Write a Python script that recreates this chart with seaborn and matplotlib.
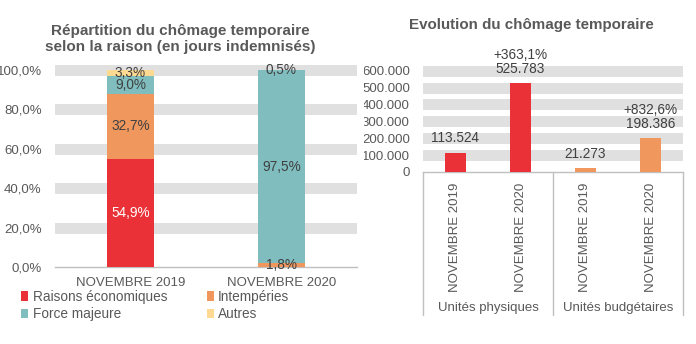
import numpy as np
import pandas as pd
import matplotlib
matplotlib.use("Agg")
import matplotlib.pyplot as plt
import seaborn as sns
from matplotlib.patches import Patch
from matplotlib.transforms import Bbox, TransformedBbox
import matplotlib.ticker as mticker

# ---------------- data ----------------
periods = ["NOVEMBRE 2019", "NOVEMBRE 2020"]
reasons = ["Raisons économiques", "Intempéries", "Force majeure", "Autres"]
eco = [54.9, 0.2]
intemp = [32.7, 1.8]
force = [9.0, 97.5]
autres = [3.3, 0.5]
reason_colors = ["#E93137", "#F0975E", "#80BDBE", "#FDD992"]

evo_keys = ["UP 2019", "UP 2020", "UB 2019", "UB 2020"]
evo_units = ["Unités physiques", "Unités physiques", "Unités budgétaires", "Unités budgétaires"]
evo_ticks = ["NOVEMBRE 2019", "NOVEMBRE 2020", "NOVEMBRE 2019", "NOVEMBRE 2020"]
evo_values = [113524, 525783, 21273, 198386]
evo_growth = ["", "+363,1%", "", "+832,6%"]
unit_names = ["Unités physiques", "Unités budgétaires"]
unit_colors = {"Unités physiques": "#E93137", "Unités budgétaires": "#F0975E"}

left_title = "Répartition du chômage temporaire\nselon la raison (en jours indemnisés)"
right_title = "Evolution du chômage temporaire"

# ---------------- style ----------------
sns.set_theme(style="white")
plt.rcParams["font.family"] = ["Liberation Sans", "DejaVu Sans"]
TXT = "#595959"
LBL = "#404040"
GRID = "#E0E0E0"
AXC = "#BFBFBF"
FS = 9.5

W, H = 696, 344
fig = plt.figure(figsize=(W / 100, H / 100), dpi=100)

def fx(px):
    return px / W

def fy(py):
    return 1 - py / H

# ---------------- left chart ----------------
l_left, l_right, l_bottom = 55, 357, 267
l_per = 197.5  # px per 100 %
l_top_val = 1.04
l_top = l_bottom - l_per * l_top_val
ax1 = fig.add_axes([fx(l_left), fy(l_bottom), fx(l_right) - fx(l_left), (l_bottom - l_top) / H])

segs = np.array([eco, intemp, force, autres])
cum = np.cumsum(segs, axis=0)
for i in range(len(reasons) - 1, -1, -1):
    sns.barplot(x=periods, y=cum[i] / 100, color=reason_colors[i], width=0.31,
                saturation=1, ax=ax1, zorder=3, linewidth=0, edgecolor="none")

for i in range(len(reasons)):
    for j in range(len(periods)):
        v = segs[i, j]
        if v < 0.4:
            continue
        c = "white" if (i == 0 and j == 0) else LBL
        ax1.text(j, (cum[i, j] - v / 2) / 100, f"{v:.1f}".replace(".", ",") + "%",
                 ha="center", va="center", fontsize=FS + 0.3, color=c, zorder=5)

ax1.set_ylim(0, l_top_val)
ax1.set_xlim(-0.5, 1.5)
ax1.set_yticks([0, 0.2, 0.4, 0.6, 0.8, 1.0])
ax1.yaxis.set_major_formatter(mticker.FuncFormatter(lambda v, p: f"{v*100:.1f}".replace(".", ",") + "%"))
ax1.grid(axis="y", color=GRID, linewidth=7.9, zorder=0)
ax1.set_axisbelow(True)
for s in ["left", "right", "top"]:
    ax1.spines[s].set_visible(False)
ax1.spines["bottom"].set_color(AXC)
ax1.spines["bottom"].set_linewidth(1)
ax1.tick_params(axis="both", length=0, colors=TXT, labelsize=FS)
ax1.tick_params(axis="y", pad=9.5)
ax1.tick_params(axis="x", pad=7.5)
ax1.set_xlabel("")
ax1.set_ylabel("")
ax1.yaxis.get_gridlines()[0].set_visible(False)

fig.text(fx(180), fy(39), left_title, ha="center", va="center", fontsize=11,
         fontweight="bold", color=TXT, linespacing=1.1)

# legend laid out row-wise (matplotlib fills columns first)
order = [0, 2, 1, 3]
handles = [Patch(facecolor=reason_colors[k], edgecolor="none") for k in order]
labels = [reasons[k] for k in order]
fig.legend(handles, labels, loc="upper left", bbox_to_anchor=(fx(21), fy(290)),
           ncol=2, frameon=False, fontsize=FS + 0.3, handlelength=0.55, handleheight=0.7,
           handletextpad=0.3, columnspacing=2.9, labelspacing=0.25, labelcolor=TXT,
           borderaxespad=0, borderpad=0)

# ---------------- right chart ----------------
r_left, r_right, r_bottom = 423, 683, 172
r_per = 16.9  # px per 100 000
r_top_val = 640000
r_top = r_bottom - r_per * r_top_val / 100000
ax2 = fig.add_axes([fx(r_left), fy(r_bottom), fx(r_right) - fx(r_left), (r_bottom - r_top) / H])

df = pd.DataFrame({"key": evo_keys, "value": evo_values, "unit": evo_units})
sns.barplot(data=df, x="key", y="value", hue="unit", hue_order=unit_names,
            palette=unit_colors, dodge=False, width=0.31, saturation=1,
            legend=False, ax=ax2, zorder=3, linewidth=0, edgecolor="none")

for j, (v, g) in enumerate(zip(evo_values, evo_growth)):
    s = f"{v:,}".replace(",", ".")
    if g:
        s = g + "\n" + s
    ax2.annotate(s, (j, v), xytext=(0, 5.5), textcoords="offset points",
                 ha="center", va="bottom", fontsize=FS + 0.3, color=LBL,
                 linespacing=1.0, annotation_clip=False)

ax2.set_ylim(0, r_top_val)
ax2.set_xlim(-0.5, 3.5)
ax2.set_yticks(list(range(0, 600001, 100000)))
ax2.yaxis.set_major_formatter(mticker.FuncFormatter(lambda v, p: f"{int(v):,}".replace(",", ".")))
ax2.grid(axis="y", color=GRID, linewidth=7.9, zorder=0)
ax2.set_axisbelow(True)
for s in ["left", "right", "top"]:
    ax2.spines[s].set_visible(False)
ax2.spines["bottom"].set_color(AXC)
ax2.spines["bottom"].set_linewidth(1)
ax2.tick_params(axis="both", length=0, colors=TXT, labelsize=FS)
ax2.tick_params(axis="y", pad=9.5)
ax2.set_xticks(range(len(evo_keys)))
ax2.set_xticklabels(evo_ticks, rotation=90, fontsize=FS)
ax2.tick_params(axis="x", pad=8)
ax2.set_xlabel("")
ax2.set_ylabel("")
ax2.yaxis.get_gridlines()[0].set_visible(False)

clip = TransformedBbox(Bbox([[fx(364), 0], [1, 1]]), fig.transFigure)
for t in ax2.get_yticklabels():
    t.set_clip_on(True)
    t.set_clip_box(clip)

ax_h = r_bottom - r_top
sep_low = -(315 - r_bottom) / ax_h
xt = ax2.get_xaxis_transform()
for xs in [-0.5, 1.5, 3.5]:
    ax2.plot([xs, xs], [0, sep_low], transform=xt, color=AXC, linewidth=1, clip_on=False)
grp_y = -(308 - r_bottom) / ax_h
ax2.text(0.5, grp_y, unit_names[0], transform=xt, ha="center", va="center", fontsize=FS, color=TXT)
ax2.text(2.5, grp_y, unit_names[1], transform=xt, ha="center", va="center", fontsize=FS, color=TXT)

fig.text(fx(531.5), fy(25), right_title, ha="center", va="center", fontsize=10.9,
         fontweight="bold", color=TXT)

fig.savefig("out.png", dpi=100)
